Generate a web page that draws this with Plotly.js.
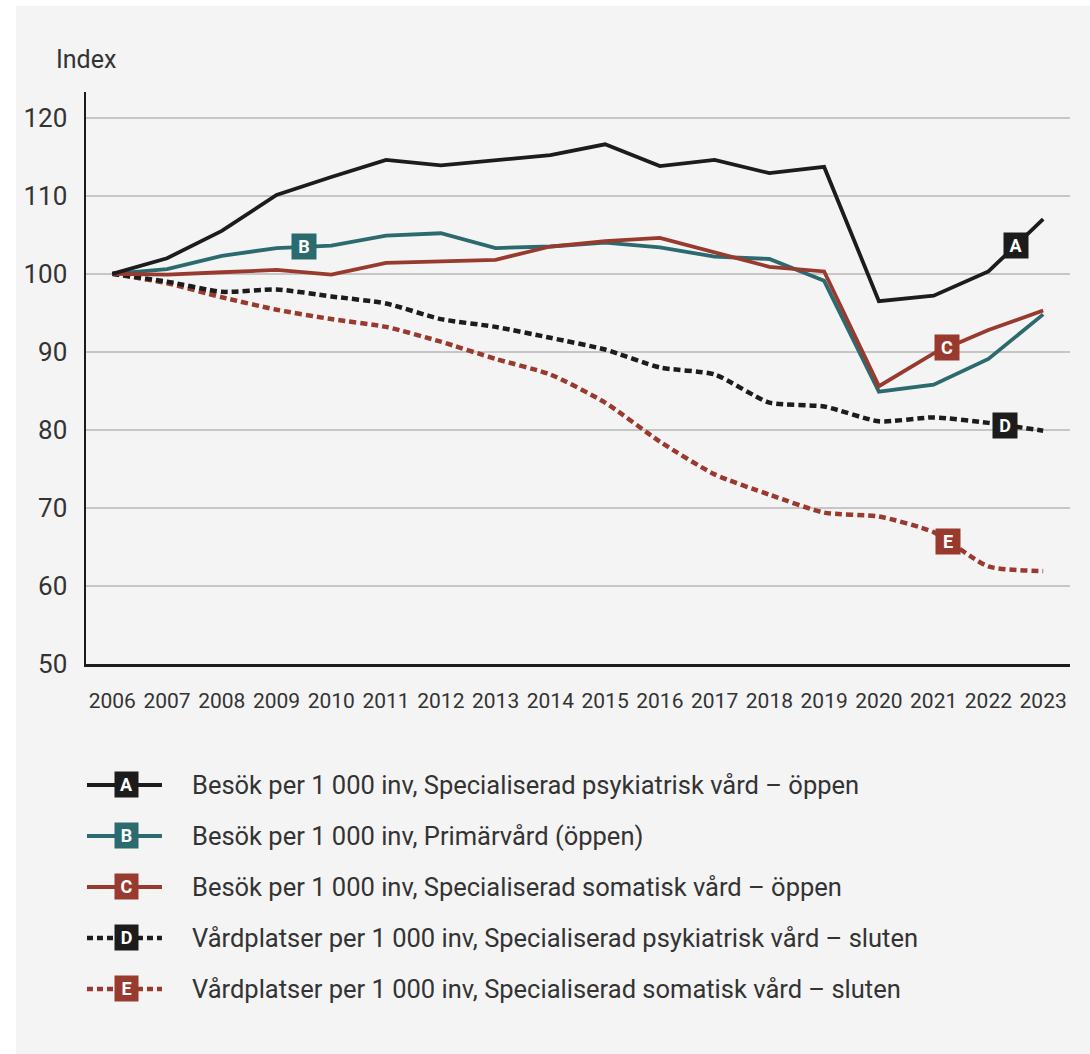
<!DOCTYPE html>
<html>
<head>
<meta charset="utf-8">
<script src="https://cdn.plot.ly/plotly-3.0.1.min.js"></script>
<style>
  html, body { margin: 0; padding: 0; background: #ffffff; }
  #chart { position: absolute; left: 16px; top: 6px; width: 1074px; height: 1048px; }
</style>
</head>
<body>
<div id="chart"></div>
<script>
// ---- DATA ----
const years = [2006, 2007, 2008, 2009, 2010, 2011, 2012, 2013, 2014, 2015, 2016, 2017, 2018, 2019, 2020, 2021, 2022, 2023];

const seriesA = [100, 102.0, 105.5, 110.1, 112.4, 114.6, 113.9, 114.6, 115.2, 116.6, 113.8, 114.6, 112.9, 113.7, 96.5, 97.2, 100.3, 107.0];
const seriesB = [100, 100.6, 102.3, 103.3, 103.6, 104.9, 105.2, 103.3, 103.5, 104.0, 103.4, 102.2, 101.9, 99.1, 84.9, 85.8, 89.1, 94.8];
const seriesC = [100, 99.9, 100.2, 100.5, 99.9, 101.4, 101.6, 101.8, 103.5, 104.2, 104.6, 102.7, 100.9, 100.3, 85.6, 89.8, 92.8, 95.3];
const seriesD = [100, 99.0, 97.7, 98.0, 97.1, 96.2, 94.2, 93.2, 91.8, 90.3, 88.0, 87.1, 83.5, 83.0, 81.1, 81.6, 80.9, 79.9];
const seriesE = [100, 98.8, 97.0, 95.4, 94.2, 93.2, 91.3, 89.1, 87.1, 83.5, 78.5, 74.3, 71.7, 69.4, 68.9, 66.9, 62.5, 61.9];

const letters = ['A', 'B', 'C', 'D', 'E'];
const seriesNames = [
  'Besök per 1 000 inv, Specialiserad psykiatrisk vård – öppen',
  'Besök per 1 000 inv, Primärvård (öppen)',
  'Besök per 1 000 inv, Specialiserad somatisk vård – öppen',
  'Vårdplatser per 1 000 inv, Specialiserad psykiatrisk vård – sluten',
  'Vårdplatser per 1 000 inv, Specialiserad somatisk vård – sluten'
];
// position (in years) along each line where its letter tag sits
const labelYears = [2022.5, 2009.5, 2021.25, 2022.3, 2021.27];

const yTicks = [50, 60, 70, 80, 90, 100, 110, 120];
const yTitle = 'Index';

// ---- STYLE ----
const colors = ['#1c1c1c', '#2b6a6f', '#993a2f', '#1c1c1c', '#993a2f'];
const dashed = [false, false, false, true, true];
const allSeries = [seriesA, seriesB, seriesC, seriesD, seriesE];
const FONT = 'Roboto, Arial, sans-serif';

function interp(xs, ys, x) {
  for (let i = 0; i < xs.length - 1; i++) {
    if (x >= xs[i] && x <= xs[i + 1]) {
      const t = (x - xs[i]) / (xs[i + 1] - xs[i]);
      return ys[i] + t * (ys[i + 1] - ys[i]);
    }
  }
  return ys[ys.length - 1];
}

const drawOrder = [4, 3, 1, 2, 0];
const traces = drawOrder.map(i => ({
  x: years,
  y: allSeries[i],
  type: 'scatter',
  mode: 'lines',
  name: seriesNames[i],
  showlegend: false,
  hoverinfo: 'x+y',
  line: dashed[i]
    ? { color: colors[i], width: 4.5, dash: '7px,4px', shape: 'spline', smoothing: 0.6 }
    : { color: colors[i], width: 3.8, shape: 'linear' }
}));

const annotations = [];
const shapes = [];

// letter tags on the lines
letters.forEach((L, i) => {
  annotations.push({
    x: labelYears[i], y: interp(years, allSeries[i], labelYears[i]),
    xref: 'x', yref: 'y', xanchor: 'center', yanchor: 'middle',
    text: '<b>' + L + '</b>', showarrow: false,
    font: { family: FONT, size: 18, color: '#ffffff' },
    bgcolor: colors[i], width: 24, height: 25, borderpad: 0, align: 'center', valign: 'middle'
  });
});

// y title
annotations.push({
  x: -0.033, y: 1.056, xref: 'paper', yref: 'paper', xanchor: 'left', yanchor: 'middle',
  text: yTitle, showarrow: false,
  font: { family: FONT, size: 25, color: '#333333' }
});

// custom legend
const legTop = -0.2115, legStep = 51 / 572;
letters.forEach((L, i) => {
  const yy = legTop - i * legStep;
  shapes.push({
    type: 'line', xref: 'paper', yref: 'paper', x0: 0.001, x1: 0.0772, y0: yy, y1: yy,
    line: dashed[i] ? { color: colors[i], width: 4.5, dash: '6px,4px' } : { color: colors[i], width: 3.8 }
  });
  annotations.push({
    x: 0.0407, y: yy, xref: 'paper', yref: 'paper', xanchor: 'center', yanchor: 'middle',
    text: '<b>' + L + '</b>', showarrow: false,
    font: { family: FONT, size: 18, color: '#ffffff' },
    bgcolor: colors[i], width: 23, height: 25, borderpad: 0, align: 'center', valign: 'middle'
  });
  annotations.push({
    x: 0.1057, y: yy, xref: 'paper', yref: 'paper', xanchor: 'left', yanchor: 'middle',
    text: seriesNames[i], showarrow: false,
    font: { family: FONT, size: 25.5, color: '#333333' }
  });
});

const layout = {
  width: 1074, height: 1048,
  paper_bgcolor: '#f4f4f4', plot_bgcolor: '#f4f4f4',
  margin: { l: 70, r: 20, t: 86, b: 390 },
  showlegend: false,
  xaxis: {
    range: [2005.52, 2023.49],
    tickvals: years, ticktext: years.map(String),
    showgrid: false, zeroline: false,
    showline: true, linecolor: '#1c1c1c', linewidth: 2.5,
    ticks: '', ticklabelstandoff: 16,
    tickfont: { family: FONT, size: 21, color: '#333333' },
    fixedrange: true
  },
  yaxis: {
    range: [50, 123.3],
    tickvals: yTicks,
    showgrid: true, gridcolor: '#c6c6c6', gridwidth: 1.5,
    zeroline: false,
    showline: true, linecolor: '#1c1c1c', linewidth: 2.5,
    ticks: '', ticklabelstandoff: 11,
    tickfont: { family: FONT, size: 26, color: '#333333' },
    fixedrange: true
  },
  annotations: annotations,
  shapes: shapes
};

Plotly.newPlot('chart', traces, layout, { displayModeBar: false, staticPlot: true });
</script>
</body>
</html>
